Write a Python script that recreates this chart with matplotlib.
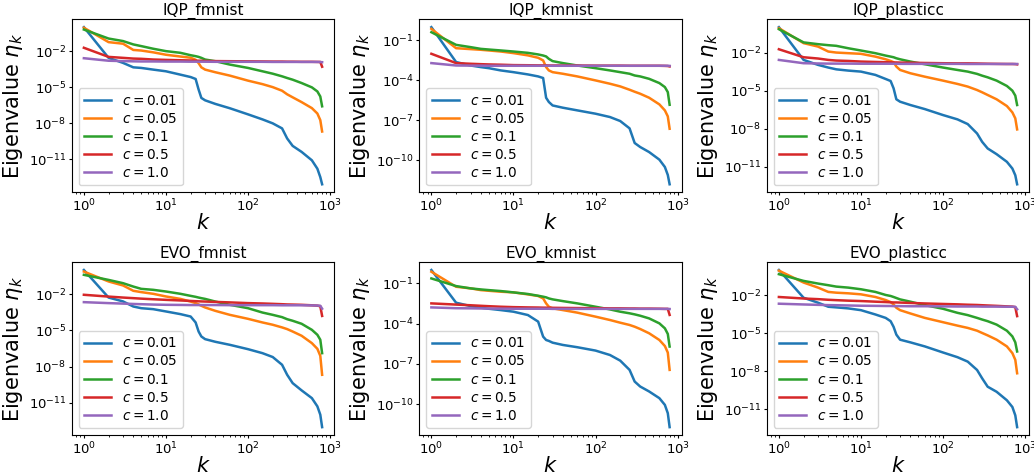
import numpy as np
import matplotlib.pyplot as plt
from matplotlib.ticker import NullLocator

# index k of the eigenvalue (shared by every curve)
K = [1, 2, 3, 4, 5, 7, 10, 15, 20, 23, 25, 27, 30, 40, 60, 100, 150, 200,
     260, 300, 350, 450, 600, 700, 760, 800]

C_LABELS = ['0.01', '0.05', '0.1', '0.5', '1.0']
TITLES = ['IQP_fmnist', 'IQP_kmnist', 'IQP_plasticc',
          'EVO_fmnist', 'EVO_kmnist', 'EVO_plasticc']
# exponents of the labelled y ticks in each panel
Y_TICK_EXP = [[-2, -5, -8, -11], [-1, -4, -7, -10], [-2, -5, -8, -11],
              [-2, -5, -8, -11], [-1, -4, -7, -10], [-2, -5, -8, -11]]

# log10 of the eigenvalues
iqp_fmnist_c001 = [0.0, -2.56, -2.98, -3.35, -3.4, -3.54, -3.68, -3.96, -4.16, -4.32, -5.2, -5.9, -6.1,
                   -6.4, -6.76, -7.27, -7.69, -8.02, -8.44, -9.28, -9.9, -10.4, -11.1, -11.8, -12.5, -13.1]
iqp_fmnist_c005 = [-0.05, -1.25, -1.38, -1.9, -1.95, -2.1, -2.3, -2.45, -2.55, -2.72, -3.0, -3.35, -3.54,
                   -3.76, -4.04, -4.46, -4.75, -5.0, -5.3, -5.6, -5.85, -6.25, -6.75, -7.2, -7.75, -8.7]
iqp_fmnist_c01 = [-0.2, -0.95, -1.16, -1.44, -1.58, -1.8, -2.0, -2.14, -2.34, -2.42, -2.48, -2.56, -2.7,
                  -2.84, -3.12, -3.4, -3.68, -3.88, -4.1, -4.24, -4.38, -4.66, -5.02, -5.36, -5.78, -6.6]
iqp_fmnist_c05 = [-1.72, -2.48, -2.56, -2.62, -2.64, -2.7, -2.73, -2.76, -2.78, -2.8, -2.8, -2.8, -2.82,
                  -2.83, -2.84, -2.85, -2.86, -2.87, -2.87, -2.88, -2.88, -2.89, -2.89, -2.9, -2.9, -3.3]
iqp_fmnist_c1 = [-2.59, -2.8, -2.83, -2.85, -2.86, -2.86, -2.87, -2.87, -2.88, -2.88, -2.88, -2.88, -2.88,
                 -2.89, -2.89, -2.89, -2.89, -2.9, -2.9, -2.9, -2.9, -2.9, -2.9, -2.9, -2.91, -2.92]

iqp_kmnist_c001 = [0.0, -2.62, -2.88, -3.0, -3.08, -3.25, -3.38, -3.55, -3.7, -3.82, -5.3, -5.62, -5.88,
                   -6.05, -6.25, -6.5, -6.75, -7.05, -7.6, -8.7, -9.0, -9.38, -9.95, -10.5, -11.1, -11.8]
iqp_kmnist_c005 = [-0.13, -1.58, -1.65, -1.7, -1.75, -1.83, -1.95, -2.12, -2.3, -2.5, -3.0, -3.25, -3.38,
                   -3.5, -3.7, -4.0, -4.25, -4.45, -4.7, -4.85, -5.0, -5.3, -5.8, -6.25, -6.7, -7.63]
iqp_kmnist_c01 = [-0.38, -1.33, -1.5, -1.63, -1.68, -1.75, -1.83, -1.93, -2.05, -2.13, -2.2, -2.38, -2.55,
                  -2.7, -2.88, -3.08, -3.25, -3.38, -3.5, -3.63, -3.7, -3.88, -4.2, -4.5, -4.88, -5.83]
iqp_kmnist_c05 = [-2.0, -2.7, -2.75, -2.78, -2.8, -2.82, -2.85, -2.86, -2.87, -2.87, -2.87, -2.88, -2.88,
                  -2.88, -2.88, -2.89, -2.89, -2.89, -2.9, -2.9, -2.9, -2.9, -2.9, -2.91, -2.92, -2.95]
iqp_kmnist_c1 = [-2.7, -2.88, -2.89, -2.89, -2.9, -2.9, -2.9, -2.9, -2.9, -2.9, -2.9, -2.9, -2.9,
                 -2.9, -2.9, -2.9, -2.9, -2.9, -2.9, -2.9, -2.9, -2.9, -2.9, -2.9, -2.9, -2.91]

iqp_plasticc_c001 = [0.0, -2.58, -2.97, -3.18, -3.32, -3.42, -3.5, -3.76, -4.08, -4.24, -4.82, -5.68, -5.87,
                     -6.13, -6.45, -6.92, -7.26, -7.63, -8.37, -9.03, -9.55, -10.0, -10.6, -11.13, -11.66, -12.37]
iqp_plasticc_c005 = [-0.08, -1.26, -1.53, -1.92, -2.0, -2.05, -2.1, -2.32, -2.53, -2.66, -2.76, -3.1, -3.37,
                     -3.63, -3.9, -4.21, -4.47, -4.68, -4.95, -5.13, -5.34, -5.68, -6.21, -6.71, -7.18, -8.05]
iqp_plasticc_c01 = [-0.16, -1.2, -1.34, -1.42, -1.47, -1.66, -1.84, -2.05, -2.24, -2.32, -2.37, -2.45, -2.53,
                    -2.71, -2.92, -3.18, -3.37, -3.5, -3.68, -3.82, -3.95, -4.21, -4.63, -5.0, -5.39, -6.13]
iqp_plasticc_c05 = [-1.74, -2.37, -2.47, -2.58, -2.63, -2.66, -2.71, -2.74, -2.76, -2.77, -2.78, -2.78, -2.79,
                    -2.8, -2.82, -2.84, -2.85, -2.85, -2.86, -2.87, -2.88, -2.89, -2.9, -2.9, -2.91, -2.93]
iqp_plasticc_c1 = [-2.58, -2.84, -2.86, -2.87, -2.87, -2.87, -2.88, -2.88, -2.88, -2.88, -2.88, -2.88, -2.89,
                   -2.89, -2.89, -2.89, -2.89, -2.9, -2.9, -2.9, -2.9, -2.9, -2.9, -2.9, -2.9, -2.9]

evo_fmnist_c001 = [0.0, -2.28, -2.6, -3.02, -3.16, -3.24, -3.43, -3.65, -3.85, -4.34, -5.09, -5.5, -5.72,
                   -5.94, -6.19, -6.55, -6.88, -7.2, -7.84, -8.67, -9.36, -9.96, -10.6, -11.28, -11.97, -13.0]
evo_fmnist_c005 = [-0.13, -0.95, -1.28, -1.72, -1.83, -1.97, -2.19, -2.39, -2.61, -2.74, -2.85, -2.96, -3.1,
                   -3.38, -3.71, -4.04, -4.34, -4.53, -4.75, -4.89, -5.09, -5.44, -6.05, -6.52, -7.1, -8.67]
evo_fmnist_c01 = [-0.4, -0.82, -1.09, -1.37, -1.56, -1.64, -1.78, -1.97, -2.14, -2.22, -2.28, -2.33, -2.39,
                  -2.61, -2.88, -3.16, -3.52, -3.71, -3.9, -4.07, -4.2, -4.45, -4.95, -5.36, -5.77, -6.88]
evo_fmnist_c05 = [-2.05, -2.2, -2.28, -2.33, -2.37, -2.42, -2.47, -2.52, -2.56, -2.58, -2.59, -2.6, -2.61,
                  -2.64, -2.68, -2.74, -2.77, -2.8, -2.83, -2.85, -2.86, -2.88, -2.92, -2.95, -3.0, -3.8]
evo_fmnist_c1 = [-2.66, -2.74, -2.78, -2.81, -2.83, -2.86, -2.88, -2.89, -2.9, -2.9, -2.9, -2.9, -2.9,
                 -2.9, -2.91, -2.91, -2.91, -2.91, -2.92, -2.92, -2.92, -2.92, -2.93, -2.94, -2.96, -3.2]

evo_kmnist_c001 = [0.0, -2.44, -2.69, -2.81, -2.89, -2.99, -3.11, -3.36, -3.85, -4.97, -5.22, -5.29, -5.42,
                   -5.59, -5.76, -6.01, -6.34, -6.76, -7.45, -8.32, -8.69, -9.06, -9.56, -10.06, -10.68, -11.72]
evo_kmnist_c005 = [-0.13, -1.25, -1.37, -1.5, -1.55, -1.62, -1.67, -1.82, -1.94, -2.12, -2.49, -2.74, -2.86,
                   -2.99, -3.18, -3.48, -3.73, -3.93, -4.1, -4.23, -4.4, -4.72, -5.22, -5.67, -6.16, -7.45]
evo_kmnist_c01 = [-0.63, -1.2, -1.37, -1.45, -1.5, -1.57, -1.67, -1.79, -1.92, -1.99, -2.04, -2.12, -2.19,
                  -2.32, -2.49, -2.74, -2.94, -3.11, -3.23, -3.31, -3.41, -3.61, -3.98, -4.35, -4.77, -5.71]
evo_kmnist_c05 = [-2.49, -2.58, -2.63, -2.67, -2.7, -2.74, -2.77, -2.79, -2.8, -2.81, -2.81, -2.82, -2.82,
                  -2.83, -2.84, -2.85, -2.86, -2.86, -2.87, -2.87, -2.88, -2.88, -2.89, -2.9, -2.9, -3.35]
evo_kmnist_c1 = [-2.79, -2.85, -2.86, -2.87, -2.88, -2.88, -2.89, -2.89, -2.89, -2.89, -2.89, -2.89, -2.9,
                 -2.9, -2.9, -2.9, -2.9, -2.9, -2.9, -2.9, -2.9, -2.9, -2.9, -2.9, -2.9, -2.91]

evo_plasticc_c001 = [0.0, -2.19, -2.58, -2.9, -2.95, -3.03, -3.17, -3.51, -3.78, -4.04, -4.49, -5.1, -5.5,
                     -5.71, -6.03, -6.51, -6.88, -7.23, -7.89, -8.55, -9.21, -9.61, -10.28, -10.81, -11.47, -12.4]
evo_plasticc_c005 = [-0.05, -0.99, -1.39, -1.73, -1.79, -1.84, -1.92, -2.13, -2.37, -2.53, -2.72, -2.98, -3.17,
                     -3.43, -3.78, -4.12, -4.39, -4.57, -4.79, -4.97, -5.16, -5.5, -6.03, -6.56, -7.09, -8.15]
evo_plasticc_c01 = [-0.33, -0.86, -1.07, -1.2, -1.31, -1.39, -1.52, -1.73, -1.97, -2.05, -2.13, -2.21, -2.32,
                    -2.5, -2.77, -3.06, -3.38, -3.56, -3.78, -3.91, -4.04, -4.31, -4.79, -5.24, -5.71, -6.43]
evo_plasticc_c05 = [-2.13, -2.25, -2.3, -2.35, -2.38, -2.42, -2.45, -2.5, -2.53, -2.55, -2.56, -2.56, -2.57,
                    -2.6, -2.64, -2.68, -2.71, -2.74, -2.76, -2.78, -2.8, -2.83, -2.87, -2.89, -2.93, -3.64]
evo_plasticc_c1 = [-2.66, -2.72, -2.75, -2.77, -2.78, -2.8, -2.82, -2.83, -2.84, -2.84, -2.85, -2.85, -2.85,
                   -2.86, -2.86, -2.87, -2.88, -2.88, -2.88, -2.89, -2.89, -2.89, -2.9, -2.9, -2.91, -3.1]

panels = [
    [iqp_fmnist_c001, iqp_fmnist_c005, iqp_fmnist_c01, iqp_fmnist_c05, iqp_fmnist_c1],
    [iqp_kmnist_c001, iqp_kmnist_c005, iqp_kmnist_c01, iqp_kmnist_c05, iqp_kmnist_c1],
    [iqp_plasticc_c001, iqp_plasticc_c005, iqp_plasticc_c01, iqp_plasticc_c05, iqp_plasticc_c1],
    [evo_fmnist_c001, evo_fmnist_c005, evo_fmnist_c01, evo_fmnist_c05, evo_fmnist_c1],
    [evo_kmnist_c001, evo_kmnist_c005, evo_kmnist_c01, evo_kmnist_c05, evo_kmnist_c1],
    [evo_plasticc_c001, evo_plasticc_c005, evo_plasticc_c01, evo_plasticc_c05, evo_plasticc_c1],
]

fig, axes = plt.subplots(2, 3, figsize=(10.34, 4.74), dpi=100)
fig.subplots_adjust(left=0.0696, right=0.9952, bottom=0.0823, top=0.9593,
                    wspace=0.326, hspace=0.405)

for ax, title, series, yexp in zip(axes.flat, TITLES, panels, Y_TICK_EXP):
    for c, vals in zip(C_LABELS, series):
        ax.plot(K, 10.0 ** np.array(vals), linewidth=1.8, label=f'$c = {c}$')
    ax.set_xscale('log')
    ax.set_yscale('log')
    ax.set_yticks([10.0 ** e for e in yexp])
    ax.yaxis.set_minor_locator(NullLocator())
    ax.set_title(title, fontsize=11, pad=3)
    ax.set_xlabel('$k$', fontsize=15, labelpad=-1)
    ax.set_ylabel('Eigenvalue $\\eta_k$', fontsize=15, labelpad=3)
    ax.tick_params(which='major', labelsize=9.5, length=2.5, pad=1.5)
    ax.tick_params(which='minor', length=1.5)
    ax.legend(loc='lower left', fontsize=9.8, labelspacing=0.3)

plt.savefig('out.png')
